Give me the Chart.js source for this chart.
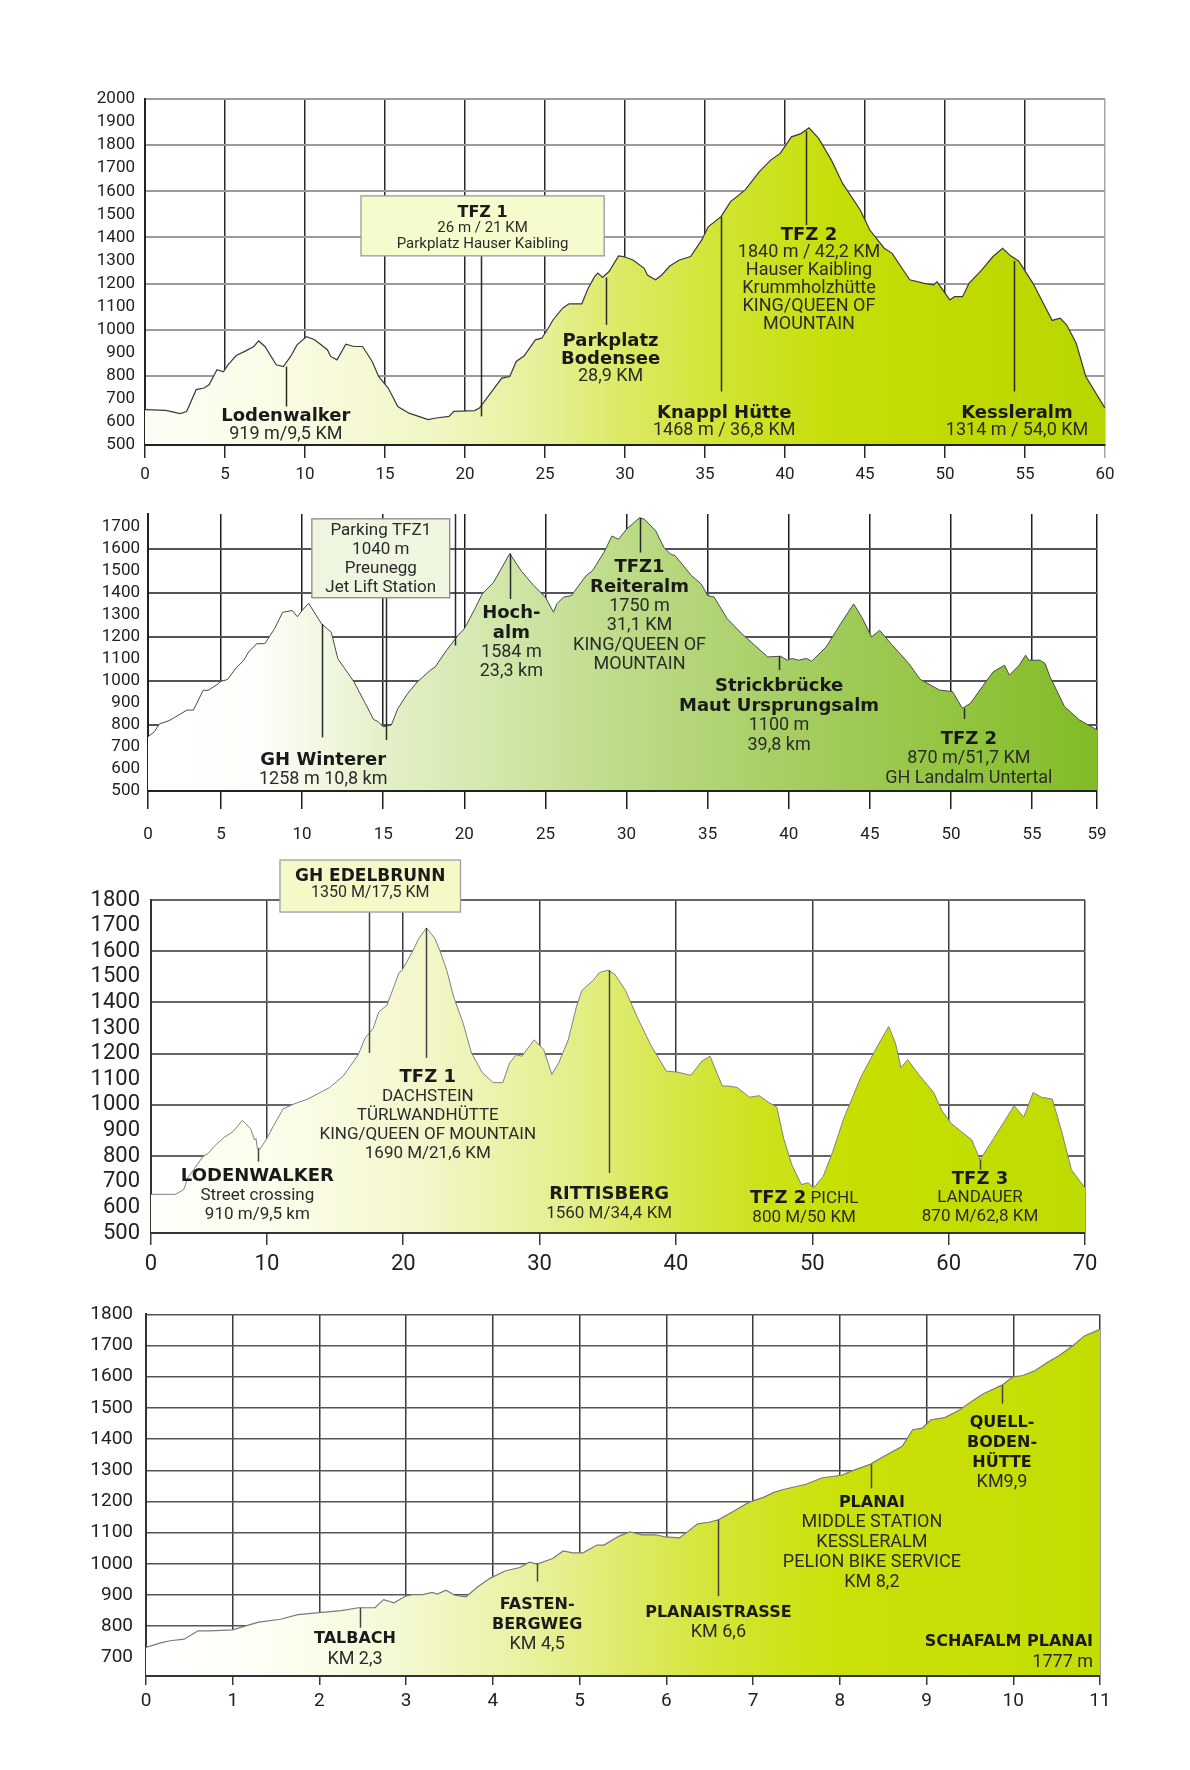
<!DOCTYPE html>
<html>
<head>
<meta charset="utf-8">
<script src="https://cdn.jsdelivr.net/npm/chart.js@4.4.0/dist/chart.umd.min.js"></script>
<style>
  body { margin: 0; background: #fff; width: 1190px; height: 1770px; position: relative; overflow: hidden; }
  .wrap { position: absolute; left: 0; width: 1190px; }
</style>
</head>
<body>
<div class="wrap" style="top:70px"><canvas id="c1" width="1190" height="420"></canvas></div>
<div class="wrap" style="top:495px"><canvas id="c2" width="1190" height="370"></canvas></div>
<div class="wrap" style="top:850px"><canvas id="c3" width="1190" height="440"></canvas></div>
<div class="wrap" style="top:1290px"><canvas id="c4" width="1190" height="460"></canvas></div>
<script>
// ---- profile 1 ----
var km1 = [0, 1.3, 2.2, 2.6, 3.2, 3.7, 4.0, 4.5, 4.9, 5.2, 5.7, 6.3, 6.8, 7.1, 7.5, 8.2, 8.65, 9.1, 9.5, 10.1, 10.6, 11.4, 11.6, 12.0, 12.55, 13.05, 13.6, 14.2, 14.6, 15.2, 15.8, 16.5, 17.7, 18.2, 19.0, 19.3, 20.6, 20.9, 22.3, 22.8, 23.2, 23.7, 24.4, 24.8, 25.2, 25.5, 26.1, 26.5, 27.3, 27.7, 28.1, 28.3, 28.6, 29.0, 29.6, 29.9, 30.5, 31.2, 31.4, 31.9, 32.3, 32.8, 33.4, 34.1, 34.8, 35.2, 36.0, 36.6, 37.5, 38.4, 39.1, 39.7, 40.4, 41.0, 41.5, 42.1, 42.9, 43.6, 44.7, 45.3, 46.2, 46.7, 47.1, 47.8, 48.7, 49.3, 49.5, 50.3, 50.6, 51.1, 51.5, 52.3, 53.0, 53.6, 54.1, 54.6, 55.5, 56.7, 57.2, 57.6, 58.2, 58.8, 60];
var elev1 = [653, 650, 636, 645, 740, 747, 761, 826, 817, 848, 888, 908, 927, 951, 927, 848, 840, 884, 934, 970, 956, 913, 884, 869, 937, 927, 927, 862, 797, 747, 667, 638, 610, 617, 624, 646, 649, 660, 790, 797, 862, 887, 956, 963, 1006, 1042, 1093, 1112, 1112, 1180, 1230, 1245, 1226, 1252, 1320, 1317, 1302, 1266, 1237, 1216, 1237, 1276, 1302, 1317, 1389, 1446, 1490, 1555, 1605, 1685, 1735, 1764, 1836, 1850, 1875, 1829, 1735, 1634, 1519, 1432, 1353, 1331, 1288, 1216, 1201, 1194, 1208, 1129, 1143, 1143, 1201, 1259, 1317, 1353, 1320, 1298, 1201, 1040, 1050, 1021, 941, 797, 660];
var xTicks1 = [0, 5, 10, 15, 20, 25, 30, 35, 40, 45, 50, 55, 60];
var yTicks1 = [500, 600, 700, 800, 900, 1000, 1100, 1200, 1300, 1400, 1500, 1600, 1700, 1800, 1900, 2000];
var labels1 = [
  { km: 8.8, m: 624, text: ["Lodenwalker", "919 m/9,5 KM"], bold: 1 },
  { km: 29.1, m: 951, text: ["Parkplatz", "Bodensee", "28,9 KM"], bold: 2 },
  { km: 36.2, m: 639, text: ["Knappl Hütte", "1468 m / 36,8 KM"], bold: 1 },
  { km: 41.5, m: 1411, text: ["TFZ 2", "1840 m / 42,2 KM", "Hauser Kaibling", "Krummholzhütte", "KING/QUEEN OF", "MOUNTAIN"], bold: 1 },
  { km: 54.5, m: 639, text: ["Kessleralm", "1314 m / 54,0 KM"], bold: 1 }
];
var boxes1 = [{ from: 13.5, to: 28.7, top: 1580, bottom: 1320, m: 1506, text: ["TFZ 1", "26 m / 21 KM", "Parkplatz Hauser Kaibling"], bold: 1 }];
var leaders1 = [[8.8, 840, 667], [21, 1320, 624], [28.8, 1226, 1021], [36.0, 1490, 732], [41.3, 1860, 1454], [54.3, 1298, 732]];

// ---- profile 2 ----
var km2 = [0.5, 0.9, 1.2, 1.8, 2.9, 3.3, 3.9, 4.2, 4.7, 5.0, 5.4, 5.9, 6.4, 6.7, 7.2, 7.7, 8.3, 8.8, 9.4, 9.7, 10.0, 10.4, 11.2, 11.8, 12.2, 13.2, 13.9, 14.4, 14.7, 15.0, 15.5, 15.9, 16.5, 17.1, 17.9, 18.2, 18.9, 19.6, 20.0, 20.7, 21.1, 21.8, 22.8, 23.5, 24.2, 25.0, 25.5, 25.7, 26.1, 26.6, 27.2, 27.5, 27.9, 28.6, 29.1, 29.5, 30.0, 30.8, 31.1, 31.8, 32.3, 32.7, 33.0, 34.0, 34.6, 35.0, 35.4, 36.2, 37.1, 37.9, 38.7, 39.5, 39.9, 40.2, 40.6, 41.1, 41.4, 42.3, 43.2, 44.0, 44.5, 45.1, 45.6, 46.3, 47.4, 48.1, 49.3, 50.1, 50.7, 51.2, 52.0, 52.6, 53.3, 53.6, 54.2, 54.6, 54.8, 55.5, 55.8, 56.1, 57.0, 57.9, 59.0];
var elev2 = [747, 770, 805, 820, 868, 868, 958, 958, 981, 999, 1007, 1057, 1094, 1132, 1170, 1170, 1238, 1313, 1321, 1293, 1321, 1354, 1260, 1222, 1102, 996, 898, 826, 815, 792, 800, 875, 943, 996, 1049, 1064, 1140, 1207, 1238, 1336, 1396, 1449, 1580, 1502, 1441, 1381, 1313, 1351, 1381, 1389, 1449, 1479, 1502, 1585, 1660, 1645, 1691, 1743, 1736, 1683, 1608, 1578, 1570, 1480, 1442, 1389, 1382, 1284, 1216, 1163, 1110, 1113, 1095, 1103, 1095, 1103, 1090, 1155, 1261, 1351, 1291, 1201, 1231, 1170, 1080, 1008, 959, 952, 876, 899, 982, 1042, 1072, 1027, 1072, 1118, 1095, 1095, 1080, 1020, 884, 824, 778];
var xTicks2 = [0, 5, 10, 15, 20, 25, 30, 35, 40, 45, 50, 55, 59];
var yTicks2 = [500, 600, 700, 800, 900, 1000, 1100, 1200, 1300, 1400, 1500, 1600, 1700];
var labels2 = [
  { km: 11.3, m: 641, text: ["GH Winterer", "1258 m 10,8 km"], bold: 1 },
  { km: 22.9, m: 1308, text: ["Hoch-", "alm", "1584 m", "23,3 km"], bold: 2 },
  { km: 30.8, m: 1517, text: ["TFZ1", "Reiteralm", "1750 m", "31,1 KM", "KING/QUEEN OF", "MOUNTAIN"], bold: 2 },
  { km: 39.4, m: 974, text: ["Strickbrücke", "Maut Ursprungsalm", "1100 m", "39,8 km"], bold: 2 },
  { km: 51.1, m: 736, text: ["TFZ 2", "870 m/51,7 KM", "GH Landalm Untertal"], bold: 1 }
];
var boxes2 = [{ from: 10.6, to: 19.1, top: 1738, bottom: 1379, m: 1686, text: ["Parking TFZ1", "1040 m", "Preunegg", "Jet Lift Station"], bold: 0 }];
var leaders2 = [[11.2, 1260, 744], [15.2, 1379, 732], [19.4, 1760, 1162], [22.8, 1580, 1373], [30.85, 1743, 1585], [39.4, 1113, 1050], [50.8, 876, 827]];

// ---- profile 3 ----
var km3 = [1.5, 3.3, 3.9, 4.2, 5.3, 5.7, 6.1, 6.9, 7.5, 8.2, 8.8, 9.1, 9.2, 9.3, 9.5, 10.0, 10.5, 11.2, 12.0, 13.0, 14.6, 15.6, 16.7, 17.2, 17.8, 18.2, 18.8, 19.3, 19.7, 19.9, 20.7, 21.1, 21.7, 22.3, 22.7, 23.2, 23.7, 24.4, 25.0, 25.8, 26.6, 27.3, 27.8, 28.3, 28.7, 29.6, 30.3, 30.9, 31.4, 32.1, 32.7, 33.1, 33.9, 34.4, 35.0, 35.5, 36.3, 37.2, 38.2, 39.3, 40.1, 41.1, 41.9, 42.5, 43.4, 43.8, 44.5, 45.4, 46.1, 46.8, 47.4, 47.9, 48.5, 49.2, 49.7, 50.1, 50.8, 51.5, 52.3, 53.6, 54.9, 55.6, 56.1, 56.5, 57.0, 57.8, 58.9, 59.5, 60.2, 61.7, 62.3, 63.3, 64.8, 65.5, 66.2, 66.8, 67.6, 67.7, 68.3, 69.0, 70.0];
var elev3 = [651, 651, 670, 715, 798, 811, 837, 875, 895, 940, 908, 863, 869, 830, 828, 869, 920, 985, 1004, 1023, 1068, 1113, 1196, 1261, 1299, 1363, 1389, 1460, 1517, 1524, 1601, 1646, 1691, 1652, 1601, 1524, 1421, 1318, 1203, 1126, 1087, 1087, 1164, 1196, 1190, 1254, 1216, 1119, 1164, 1254, 1383, 1447, 1485, 1517, 1526, 1511, 1447, 1338, 1229, 1132, 1128, 1116, 1171, 1190, 1074, 1074, 1068, 1030, 1036, 1010, 991, 869, 766, 689, 696, 676, 721, 818, 946, 1113, 1241, 1306, 1241, 1145, 1177, 1119, 1049, 978, 927, 863, 786, 869, 997, 952, 1049, 1030, 1023, 1004, 895, 747, 676];
var xTicks3 = [0, 10, 20, 30, 40, 50, 60, 70];
var yTicks3 = [500, 600, 700, 800, 900, 1000, 1100, 1200, 1300, 1400, 1500, 1600, 1700, 1800];
var labels3 = [
  { km: 9.3, m: 721, text: ["LODENWALKER", "Street crossing", "910 m/9,5 km"], bold: 1 },
  { km: 21.8, m: 1107, text: ["TFZ 1", "DACHSTEIN", "TÜRLWANDHÜTTE", "KING/QUEEN OF MOUNTAIN", "1690 M/21,6 KM"], bold: 1 },
  { km: 35.1, m: 651, text: ["RITTISBERG", "1560 M/34,4 KM"], bold: 1 },
  { km: 49.4, m: 635, text: [["TFZ 2", " PICHL"], "800 M/50 KM"], bold: 1 },
  { km: 62.3, m: 711, text: ["TFZ 3", "LANDAUER", "870 M/62,8 KM"], bold: 1 }
];
var boxes3 = [{ from: 10.96, to: 24.2, top: 1956, bottom: 1753, m: 1893, text: ["GH EDELBRUNN", "1350 M/17,5 KM"], bold: 1 }];
var leaders3 = [[9.35, 830, 779], [17.5, 1753, 1203], [21.7, 1691, 1184], [35.1, 1526, 734], [62.3, 786, 747]];

// ---- profile 4 ----
var km4 = [0, 0.19, 0.28, 0.44, 0.6, 0.73, 1.0, 1.14, 1.3, 1.55, 1.75, 2.0, 2.25, 2.45, 2.64, 2.74, 2.86, 2.99, 3.07, 3.19, 3.3, 3.36, 3.46, 3.56, 3.69, 3.83, 3.97, 4.14, 4.31, 4.42, 4.51, 4.69, 4.81, 4.92, 5.04, 5.2, 5.28, 5.45, 5.58, 5.72, 5.88, 5.99, 6.15, 6.25, 6.36, 6.5, 6.6, 6.79, 6.95, 7.12, 7.24, 7.36, 7.61, 7.8, 8.02, 8.14, 8.35, 8.51, 8.72, 8.84, 8.95, 9.05, 9.21, 9.38, 9.54, 9.66, 9.87, 9.99, 10.11, 10.24, 10.4, 10.53, 10.69, 10.82, 11.0];
var elev4 = [732, 748, 753, 758, 785, 785, 788, 800, 813, 822, 837, 843, 850, 859, 859, 885, 875, 896, 901, 901, 908, 903, 915, 899, 894, 927, 954, 977, 988, 1005, 999, 1017, 1041, 1035, 1035, 1060, 1060, 1088, 1102, 1093, 1093, 1086, 1083, 1104, 1128, 1134, 1141, 1171, 1197, 1213, 1229, 1239, 1255, 1276, 1284, 1298, 1319, 1345, 1377, 1430, 1435, 1462, 1469, 1493, 1525, 1546, 1573, 1599, 1604, 1618, 1647, 1668, 1700, 1731, 1752];
var xTicks4 = [0, 1, 2, 3, 4, 5, 6, 7, 8, 9, 10, 11];
var yTicks4 = [700, 800, 900, 1000, 1100, 1200, 1300, 1400, 1500, 1600, 1700, 1800];
var labels4 = [
  { km: 2.41, m: 758, text: ["TALBACH", "KM 2,3"], bold: 1 },
  { km: 4.51, m: 869, text: ["FASTEN-", "BERGWEG", "KM 4,5"], bold: 2 },
  { km: 6.6, m: 843, text: ["PLANAISTRASSE", "KM 6,6"], bold: 1 },
  { km: 8.37, m: 1195, text: ["PLANAI", "MIDDLE STATION", "KESSLERALM", "PELION BIKE SERVICE", "KM 8,2"], bold: 1 },
  { km: 9.87, m: 1453, text: ["QUELL-", "BODEN-", "HÜTTE", "KM9,9"], bold: 3 },
  { km: 10.92, m: 748, text: ["SCHAFALM PLANAI", "1777 m"], bold: 1, align: "right" }
];
var leaders4 = [[2.47, 859, 795], [4.51, 1000, 943], [6.6, 1141, 896], [8.36, 1319, 1242], [9.87, 1573, 1514]];

var REG = "Roboto, 'Open Sans', sans-serif";
var BOLD = "'DejaVu Sans', sans-serif";

function gradient(stops) {
  return function (c) {
    var a = c.chart.chartArea;
    if (!a) return null;
    var g = c.chart.ctx.createLinearGradient(a.left, 0, a.right, 0);
    stops.forEach(function (s) { g.addColorStop(s[0], s[1]); });
    return g;
  };
}

function textBlock(ctx, cx, cy, lines, nBold, s, lh, align) {
  ctx.textBaseline = "middle";
  lines.forEach(function (ln, i) {
    var yy = cy + i * lh;
    if (Array.isArray(ln)) {
      ctx.font = s.bold; var w1 = ctx.measureText(ln[0]).width;
      ctx.font = s.reg; var w2 = ctx.measureText(ln[1]).width;
      var x0 = cx - (w1 + w2) / 2;
      ctx.textAlign = "left";
      ctx.font = s.bold; ctx.fillStyle = "#1a1a1a"; ctx.fillText(ln[0], x0, yy);
      ctx.font = s.reg; ctx.fillStyle = "#2b2b2b"; ctx.fillText(ln[1], x0 + w1, yy);
    } else {
      var b = i < nBold;
      ctx.font = b ? s.bold : s.reg;
      ctx.fillStyle = b ? "#1a1a1a" : "#2b2b2b";
      ctx.textAlign = align || "center";
      ctx.fillText(ln, cx, yy);
    }
  });
}

function notes(s) {
  return {
    id: "notes",
    afterDatasetsDraw: function (chart) {
      var ctx = chart.ctx, x = chart.scales.x, y = chart.scales.y, a = chart.chartArea;
      ctx.save();
      // axis line on top of the fill
      ctx.strokeStyle = s.axis; ctx.lineWidth = 2;
      ctx.beginPath(); ctx.moveTo(a.left, a.bottom); ctx.lineTo(a.right, a.bottom); ctx.stroke();
      // leader lines
      ctx.strokeStyle = s.leader; ctx.lineWidth = 1.5;
      s.leaders.forEach(function (l) {
        var px = Math.round(x.getPixelForValue(l[0])) + 0.5;
        ctx.beginPath();
        ctx.moveTo(px, y.getPixelForValue(l[1]));
        ctx.lineTo(px, y.getPixelForValue(l[2]));
        ctx.stroke();
      });
      // boxes
      (s.boxes || []).forEach(function (b) {
        var l = x.getPixelForValue(b.from), r = x.getPixelForValue(b.to);
        var t = y.getPixelForValue(b.top), bt = y.getPixelForValue(b.bottom);
        ctx.fillStyle = s.boxFill; ctx.fillRect(l, t, r - l, bt - t);
        ctx.strokeStyle = s.boxLine; ctx.lineWidth = 1.3; ctx.strokeRect(l, t, r - l, bt - t);
        textBlock(ctx, (l + r) / 2, y.getPixelForValue(b.m), b.text, b.bold, s.boxFont, s.boxLh);
      });
      // labels
      s.labels.forEach(function (lb) {
        textBlock(ctx, x.getPixelForValue(lb.km), y.getPixelForValue(lb.m), lb.text, lb.bold, s.font, s.lh, lb.align);
      });
      ctx.restore();
    }
  };
}

function profile(id, km, elev, s) {
  var pts = km.map(function (v, i) { return { x: v, y: elev[i] }; });
  return new Chart(document.getElementById(id), {
    type: "line",
    data: {
      datasets: [{
        data: pts,
        borderColor: s.line,
        borderWidth: s.lineWidth,
        pointRadius: 0,
        tension: 0,
        fill: "start",
        backgroundColor: gradient(s.stops)
      }]
    },
    options: {
      responsive: false,
      animation: false,
      events: [],
      layout: { padding: s.pad },
      plugins: { legend: { display: false }, tooltip: { enabled: false } },
      scales: {
        x: {
          type: "linear",
          min: s.xMin,
          max: s.xMax,
          afterBuildTicks: function (ax) {
            ax.ticks = s.xTicks.map(function (v) { return { value: v === 0 ? s.xMin : v }; });
          },
          afterFit: function (ax) { ax.height = s.xH; },
          ticks: {
            autoSkip: false, maxRotation: 0,
            font: { family: REG, size: s.tickSize },
            color: "#222",
            padding: s.xPad,
            callback: function (v) { return v === s.xMin ? "0" : String(v); }
          },
          grid: {
            color: function (c) { return (s.edgeGrey && c.tick && c.tick.value === s.xMax) ? s.edgeGrey : s.vGrid; },
            lineWidth: s.vWidth,
            tickLength: s.tickLen
          },
          border: { display: true, color: s.axis, width: 2 }
        },
        y: {
          min: s.yMin,
          max: s.yMax,
          afterBuildTicks: function (ax) {
            ax.ticks = s.yTicks.map(function (v) { return { value: v }; });
          },
          afterFit: function (ax) { ax.width = 80; },
          ticks: {
            autoSkip: false,
            font: { family: REG, size: s.tickSize },
            color: "#222",
            padding: s.yPad,
            callback: function (v) { return String(v); }
          },
          grid: {
            color: function (c) { return c.tick && c.tick.value % s.hEvery === 0 ? s.hGrid : "rgba(0,0,0,0)"; },
            lineWidth: s.hWidth,
            drawTicks: false
          },
          border: { display: true, color: s.axis, width: 2 }
        }
      }
    },
    plugins: [notes(s)]
  });
}

profile("c1", km1, elev1, {
  xMin: 0, xMax: 60, yMin: 500, yMax: 2000, xTicks: xTicks1, yTicks: yTicks1,
  pad: { top: 29, bottom: 5, left: 65, right: 85 }, xH: 40, tickLen: 13, xPad: 7, yPad: 10, tickSize: 17,
  vGrid: "#2a2a2a", vWidth: 1.5, edgeGrey: "#a8a8a8", hGrid: "#9a9a9a", hWidth: 2, hEvery: 200, axis: "#222",
  line: "#3a3a3a", lineWidth: 1.2,
  stops: [[0, "#fdfdf6"], [0.15, "#fafbe3"], [0.3, "#f1f6c4"], [0.42, "#e6ef94"], [0.5, "#dce963"], [0.6, "#d2e433"], [0.72, "#c6de08"], [0.85, "#c0da00"], [1, "#b9d600"]],
  labels: labels1, leaders: leaders1, boxes: boxes1, leader: "#2a2a2a",
  font: { bold: "bold 18px " + BOLD, reg: "18px " + REG }, lh: 18,
  boxFill: "#f5fbcd", boxLine: "#9a9a9a", boxFont: { bold: "bold 16px " + BOLD, reg: "15px " + REG }, boxLh: 15.5
});

profile("c2", km2, elev2, {
  xMin: 0.5, xMax: 59, yMin: 500, yMax: 1760, xTicks: xTicks2, yTicks: yTicks2,
  pad: { top: 19, bottom: 18, left: 68, right: 93 }, xH: 56, tickLen: 18, xPad: 16, yPad: 8, tickSize: 17,
  vGrid: "#1e1e1e", vWidth: 1.5, hGrid: "#555", hWidth: 2, hEvery: 200, axis: "#222",
  line: "#4a4a4a", lineWidth: 1,
  stops: [[0, "#ffffff"], [0.12, "#fdfefa"], [0.25, "#e4f0c8"], [0.38, "#d0e6a8"], [0.5, "#bddb88"], [0.7, "#a3cc5e"], [0.85, "#93c440"], [1, "#82bb26"]],
  labels: labels2, leaders: leaders2, boxes: boxes2, leader: "#2a2a2a",
  font: { bold: "bold 18px " + BOLD, reg: "18px " + REG }, lh: 19.5,
  boxFill: "#eef6e0", boxLine: "#8a8a8a", boxFont: { bold: "bold 17px " + BOLD, reg: "17px " + REG }, boxLh: 19
});

profile("c3", km3, elev3, {
  xMin: 1.5, xMax: 70, yMin: 500, yMax: 1800, xTicks: xTicks3, yTicks: yTicks3,
  pad: { top: 50, bottom: 7, left: 71, right: 105 }, xH: 50, tickLen: 12, xPad: 6, yPad: 11, tickSize: 22,
  vGrid: "#3a3a3a", vWidth: 1.5, hGrid: "#666", hWidth: 2, hEvery: 200, axis: "#333",
  line: "#808080", lineWidth: 1,
  stops: [[0, "#fefefa"], [0.15, "#fbfce8"], [0.3, "#f2f6c8"], [0.45, "#e4ee8a"], [0.55, "#d8e74d"], [0.65, "#cde21c"], [0.75, "#c7df00"], [1, "#bedb00"]],
  labels: labels3, leaders: leaders3, boxes: boxes3, leader: "#444",
  font: { bold: "bold 18px " + BOLD, reg: "17px " + REG }, lh: 19,
  boxFill: "#f5f9c8", boxLine: "#a0a0a0", boxFont: { bold: "bold 17px " + BOLD, reg: "16px " + REG }, boxLh: 17
});

profile("c4", km4, elev4, {
  xMin: 0, xMax: 11, yMin: 640, yMax: 1800, xTicks: xTicks4, yTicks: yTicks4,
  pad: { top: 21, bottom: 24, left: 66, right: 90 }, xH: 50, tickLen: 9, xPad: 5, yPad: 13, tickSize: 19,
  vGrid: "#3a3a3a", vWidth: 1.5, hGrid: "#555", hWidth: 1.5, hEvery: 100, axis: "#333",
  line: "#7a7a7a", lineWidth: 1.2,
  stops: [[0, "#ffffff"], [0.12, "#fefef6"], [0.25, "#f6f9d8"], [0.4, "#e9f1a0"], [0.5, "#dfea6a"], [0.6, "#d4e534"], [0.72, "#cbe10a"], [1, "#c3dd00"]],
  labels: labels4, leaders: leaders4, boxes: [], leader: "#444",
  font: { bold: "bold 16px " + BOLD, reg: "18px " + REG }, lh: 20
});
</script>
</body>
</html>
